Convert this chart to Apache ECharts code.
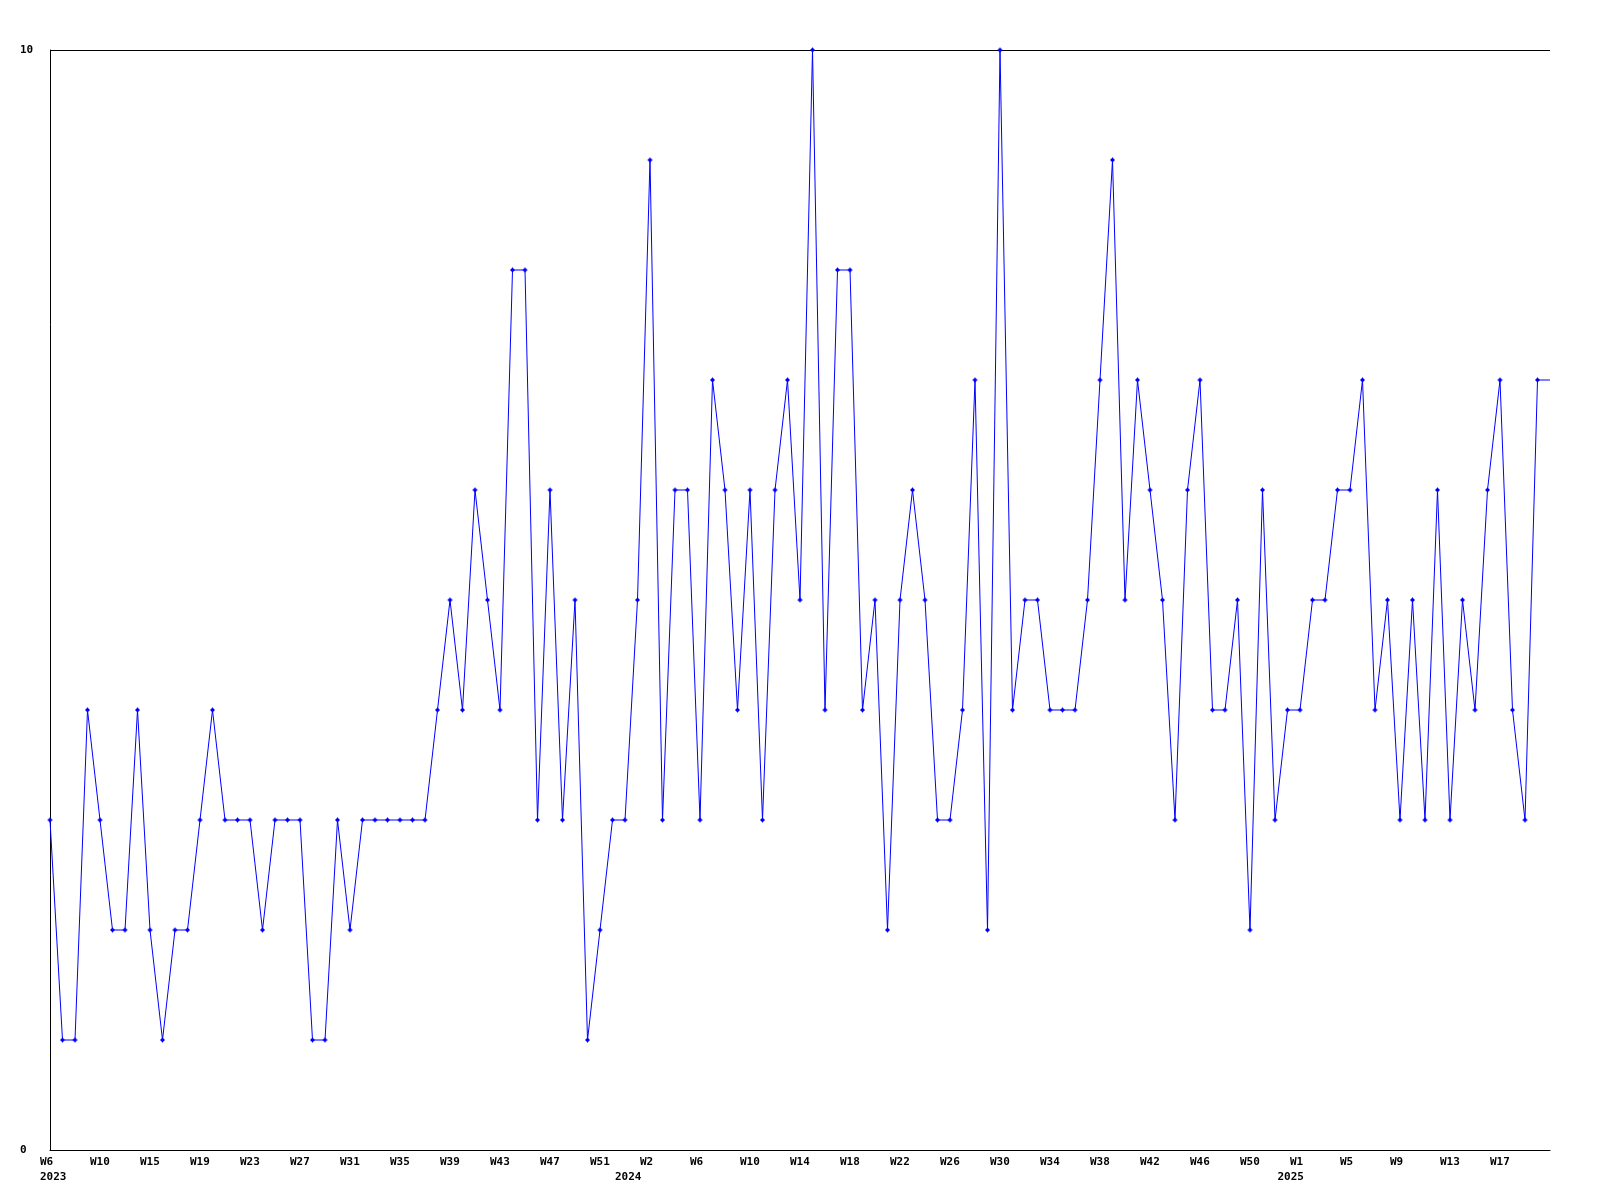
<!DOCTYPE html>
<html>
<head>
<meta charset="utf-8">
<script src="https://cdn.jsdelivr.net/npm/echarts@6/dist/echarts.min.js"></script>
<style>
html,body{margin:0;padding:0;background:#fff;}
#chart{width:1600px;height:1200px;}
</style>
</head>
<body>
<div id="chart"></div>
<script>
// Weekly values (one per week, starting 2023 W6); the last entry is the line's continuation to the right edge
const values = [
  3,1,1,4,3,2,2,4,2,1,2,2,3,4,3,3,3,2,3,3,3,1,1,3,2,3,3,3,3,3,3,
  4,5,4,6,5,4,8,8,3,6,3,5,1,2,3,3,5,9,3,6,6,3,7,6,4,6,3,6,7,5,
  10,4,8,8,4,5,2,5,6,5,3,3,4,7,2,10,4,5,5,4,4,4,5,7,9,5,7,6,5,3,6,
  7,4,4,5,2,6,3,4,4,5,5,6,6,7,4,5,3,5,3,6,3,5,4,6,7,4,3,7
];
const tailValue = 7;

// Week tick labels and the point index they sit at
const weekLabels = ['W6','W10','W15','W19','W23','W27','W31','W35','W39','W43','W47','W51',
  'W2','W6','W10','W14','W18','W22','W26','W30','W34','W38','W42','W46','W50',
  'W1','W5','W9','W13','W17'];
const weekTickIndex = [0,4,8,12,16,20,24,28,32,36,40,44,48,52,56,60,64,68,72,76,80,84,88,92,96,100,104,108,112,116];

// Year labels and their positions
const yearLabels = ['2023','2024','2025'];
const yearTickIndex = [0,46,99];

const yTicks = [0,10];

const labelFont = {fontFamily:'DejaVu Sans Mono', fontWeight:'bold', fontSize:11, color:'#000'};

const seriesData = values.map((v,i)=>[i,v]);
seriesData.push({value:[values.length, tailValue], symbol:'none'});

const chart = echarts.init(document.getElementById('chart'), null, {renderer:'canvas'});
chart.setOption({
  animation:false,
  backgroundColor:'#fff',
  grid:{left:50,right:50,top:50,bottom:50,containLabel:false},
  xAxis:[{
    type:'value', min:0, max:values.length,
    axisLine:{show:true, lineStyle:{color:'#000', width:1}},
    axisTick:{show:false},
    splitLine:{show:false},
    axisLabel:{
      show:true,
      customValues: weekTickIndex,
      margin:7,
      formatter:function(v){
        const k = weekTickIndex.indexOf(Math.round(v));
        return k>=0 ? '{a|'+weekLabels[k]+'}' : '';
      },
      rich:{a:Object.assign({width:20, align:'left'}, labelFont)}
    }
  },{
    type:'value', min:0, max:values.length, position:'bottom',
    axisLine:{show:false}, axisTick:{show:false}, splitLine:{show:false},
    axisLabel:{
      show:true,
      customValues: yearTickIndex,
      margin:22,
      formatter:function(v){
        const k = yearTickIndex.indexOf(Math.round(v));
        return k>=0 ? '{a|'+yearLabels[k]+'}' : '';
      },
      rich:{a:Object.assign({width:20, align:'left'}, labelFont)}
    }
  }],
  yAxis:{
    type:'value', min:yTicks[0], max:yTicks[1], interval:10,
    axisLine:{show:true, lineStyle:{color:'#000', width:1}},
    axisTick:{show:false},
    splitLine:{show:true, lineStyle:{color:'#000', width:1}},
    axisLabel:Object.assign({align:'left', margin:30}, labelFont)
  },
  series:[{
    type:'line',
    xAxisIndex:0,
    data:seriesData,
    symbol:'path://M2,0 H3 V1 H4 V2 H5 V3 H4 V4 H3 V5 H2 V4 H1 V3 H0 V2 H1 V1 H2 Z',
    symbolSize:5,
    showSymbol:true,
    showAllSymbol:true,
    clip:false,
    lineStyle:{color:'#0000ff', width:1},
    itemStyle:{color:'#0000ff'},
    emphasis:{disabled:true}
  }]
});
</script>
</body>
</html>
